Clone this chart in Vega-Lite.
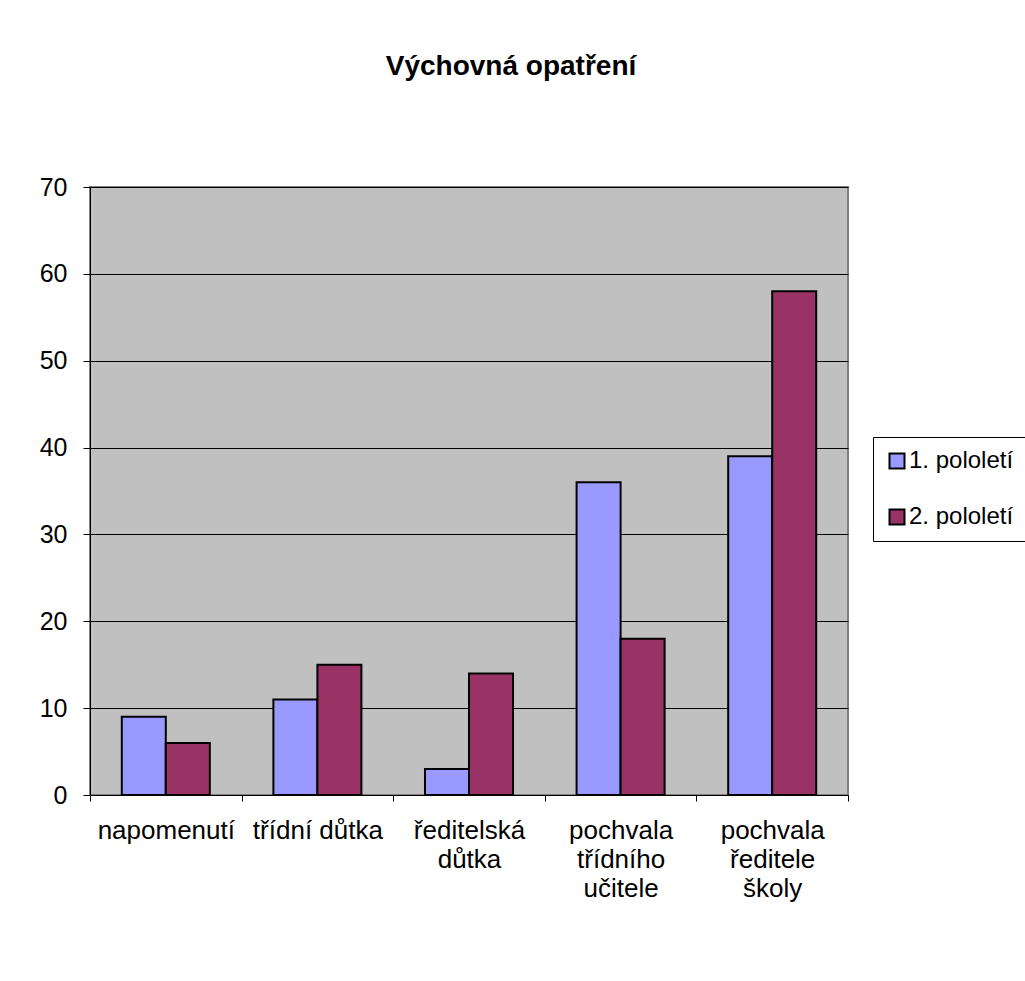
{
  "$schema": "https://vega.github.io/schema/vega-lite/v6.json",
  "autosize": {"type": "none"},
  "padding": {"left": 90, "top": 187, "right": 177, "bottom": 186},
  "width": 758,
  "height": 608,
  "background": "white",
  "title": {
    "text": "Výchovná opatření",
    "font": "Liberation Sans",
    "fontSize": 28,
    "fontWeight": "bold",
    "color": "black",
    "anchor": "middle",
    "frame": "group",
    "baseline": "alphabetic",
    "offset": 72,
    "dx": 42
  },
  "data": {
    "values": [
      {"k": "napomenutí", "s": "1. pololetí", "v": 9},
      {"k": "napomenutí", "s": "2. pololetí", "v": 6},
      {"k": "třídní důtka", "s": "1. pololetí", "v": 11},
      {"k": "třídní důtka", "s": "2. pololetí", "v": 15},
      {"k": "ředitelská důtka", "s": "1. pololetí", "v": 3},
      {"k": "ředitelská důtka", "s": "2. pololetí", "v": 14},
      {"k": "pochvala třídního učitele", "s": "1. pololetí", "v": 36},
      {"k": "pochvala třídního učitele", "s": "2. pololetí", "v": 18},
      {"k": "pochvala ředitele školy", "s": "1. pololetí", "v": 39},
      {"k": "pochvala ředitele školy", "s": "2. pololetí", "v": 58}
    ]
  },
  "mark": {"type": "bar", "stroke": "black", "strokeWidth": 2},
  "encoding": {
    "x": {
      "field": "k",
      "type": "nominal",
      "sort": null,
      "scale": {"paddingInner": 0, "paddingOuter": 0},
      "axis": {
        "title": null,
        "labelAngle": 0,
        "labelFont": "Liberation Sans",
        "labelFontSize": 26,
        "labelColor": "black",
        "labelLineHeight": 29,
        "labelPadding": 16,
        "labelExpr": "datum.value == null ? '' : (datum.value == 'třídní důtka' ? datum.value : split(datum.value, ' '))",
        "tickBand": "extent",
        "tickSize": 6,
        "tickColor": "black",
        "domainColor": "black",
        "domainWidth": 1,
        "grid": false
      }
    },
    "xOffset": {"field": "s", "type": "nominal", "scale": {"paddingInner": 0, "paddingOuter": 0.7225}},
    "y": {
      "field": "v",
      "type": "quantitative",
      "scale": {"domain": [0, 70], "nice": false},
      "axis": {
        "title": null,
        "values": [0, 10, 20, 30, 40, 50, 60, 70],
        "labelFont": "Liberation Sans",
        "labelFontSize": 25,
        "labelColor": "black",
        "labelPadding": 16,
        "tickSize": 7,
        "tickColor": "black",
        "domainColor": "black",
        "grid": true,
        "gridColor": "black",
        "gridWidth": 1
      }
    },
    "color": {
      "field": "s",
      "type": "nominal",
      "scale": {"domain": ["1. pololetí", "2. pololetí"], "range": ["#9999FF", "#993366"]},
      "legend": {
        "title": null,
        "orient": "none",
        "legendX": 783,
        "legendY": 250,
        "strokeColor": "black",
        "fillColor": "white",
        "padding": 12,
        "rowPadding": 32,
        "symbolType": "square",
        "symbolSize": 225,
        "symbolStrokeColor": "black",
        "symbolStrokeWidth": 2,
        "labelFont": "Liberation Sans",
        "labelFontSize": 24,
        "labelColor": "black",
        "labelOffset": 0
      }
    }
  },
  "config": {
    "view": {"fill": "#C0C0C0", "stroke": "#808080", "strokeWidth": 2}
  }
}
